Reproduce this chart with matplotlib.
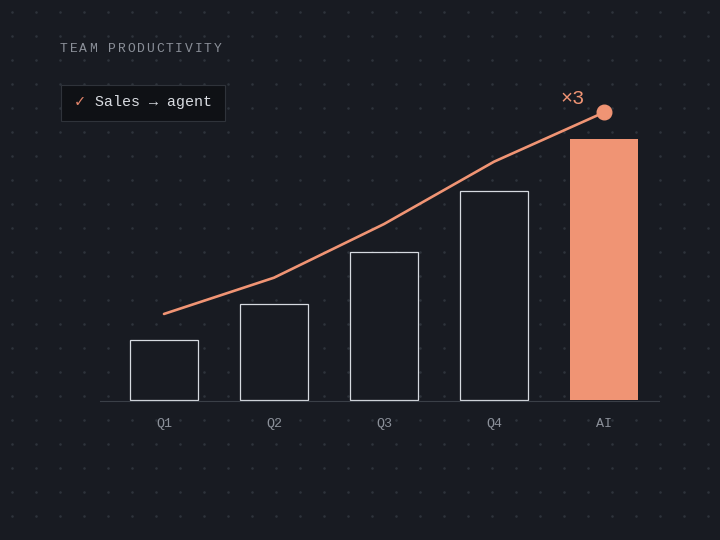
import matplotlib
matplotlib.use("Agg")
import matplotlib.pyplot as plt
from matplotlib.patches import Rectangle
import numpy as np

# ---- data ----
categories = ["Q1", "Q2", "Q3", "Q4", "AI"]
bar_values = [2.05, 3.3, 5.1, 7.2, 9.0]
line_values = [2.95, 4.2, 6.05, 8.2, 9.9]
title_text = "TEAM PRODUCTIVITY"
legend_text = "Sales \u2192 agent"
multiplier_label = "\u00d73"

# ---- style ----
BG = "#181b22"
DOT = "#2e333b"
OUTLINE = "#d6dae0"
SALMON = "#f09474"
MUTED = "#8b9099"
MONO = ["Liberation Mono", "DejaVu Sans Mono", "DejaVu Sans"]

W, H = 720, 540
fig = plt.figure(figsize=(W / 100, H / 100), dpi=100, facecolor=BG)

# background dot grid in pixel coordinates
bg = fig.add_axes([0, 0, 1, 1], zorder=0)
bg.set_xlim(0, W)
bg.set_ylim(H, 0)
bg.axis("off")
bg.set_facecolor(BG)
gx, gy = np.meshgrid(np.arange(12, W, 24), np.arange(12, H, 24))
bg.scatter(gx.ravel(), gy.ravel(), s=3.5, color=DOT, linewidths=0)

# main axes: pixel box x 100..659, y 80..401
px_per_unit = 29.0
ax_left, ax_right, ax_top, ax_bottom = 100, 659, 80, 401
ax = fig.add_axes([ax_left / W, (H - ax_bottom) / H,
                   (ax_right - ax_left) / W, (ax_bottom - ax_top) / H], zorder=1)
ax.set_facecolor("none")
step = 110.0
xmin = -(164 - ax_left) / step
ax.set_xlim(xmin, xmin + (ax_right - ax_left) / step)
y0 = -1.5 / px_per_unit
ax.set_ylim(y0, y0 + (ax_bottom - ax_top) / px_per_unit)

x = np.arange(len(categories))
width = 0.61
for i, (xi, v) in enumerate(zip(x, bar_values)):
    if categories[i] == "AI":
        ax.bar(xi, v, width=width, color=SALMON, edgecolor="none", zorder=2)
    else:
        ax.bar(xi, v, width=width, facecolor=BG, edgecolor=OUTLINE,
               linewidth=0.9, zorder=2)

ax.plot(x, line_values, color=SALMON, linewidth=1.9, zorder=3,
        solid_capstyle="round")
ax.plot([x[-1]], [line_values[-1]], "o", color=SALMON, markersize=10.5, zorder=4)
ax.annotate(multiplier_label, (x[-1], line_values[-1]), xytext=(-31, 14),
            textcoords="offset pixels", ha="center", va="center",
            color=SALMON, fontsize=14.5, family=MONO, zorder=5)

for s in ["top", "right", "left"]:
    ax.spines[s].set_visible(False)
ax.spines["bottom"].set_color("#3a3f47")
ax.spines["bottom"].set_linewidth(0.8)
ax.set_yticks([])
ax.set_xticks(x)
ax.set_xticklabels(categories, family=MONO, fontsize=9.6, color=MUTED)
ax.tick_params(axis="x", length=0, pad=12)

# overlay for title and legend box
ov = fig.add_axes([0, 0, 1, 1], zorder=3)
ov.set_xlim(0, W)
ov.set_ylim(H, 0)
ov.axis("off")
ov.patch.set_alpha(0)

for i, ch in enumerate(title_text):
    ov.text(60 + i * 9.6, 49, ch, ha="left", va="center", color=MUTED,
            fontsize=9.4, family=MONO)

ov.add_patch(Rectangle((60.5, 84.5), 164, 36, facecolor="#0f1115",
                       edgecolor="#2f333a", linewidth=0.8))
ov.text(74, 102, "\u2713", ha="left", va="center", color="#e0836a",
        fontsize=10.5, family=["DejaVu Sans"])
ov.text(95, 102, legend_text, ha="left", va="center", color="#d8dbe0",
        fontsize=10.8, family=MONO)

fig.savefig("out.png", dpi=100, facecolor=BG)
